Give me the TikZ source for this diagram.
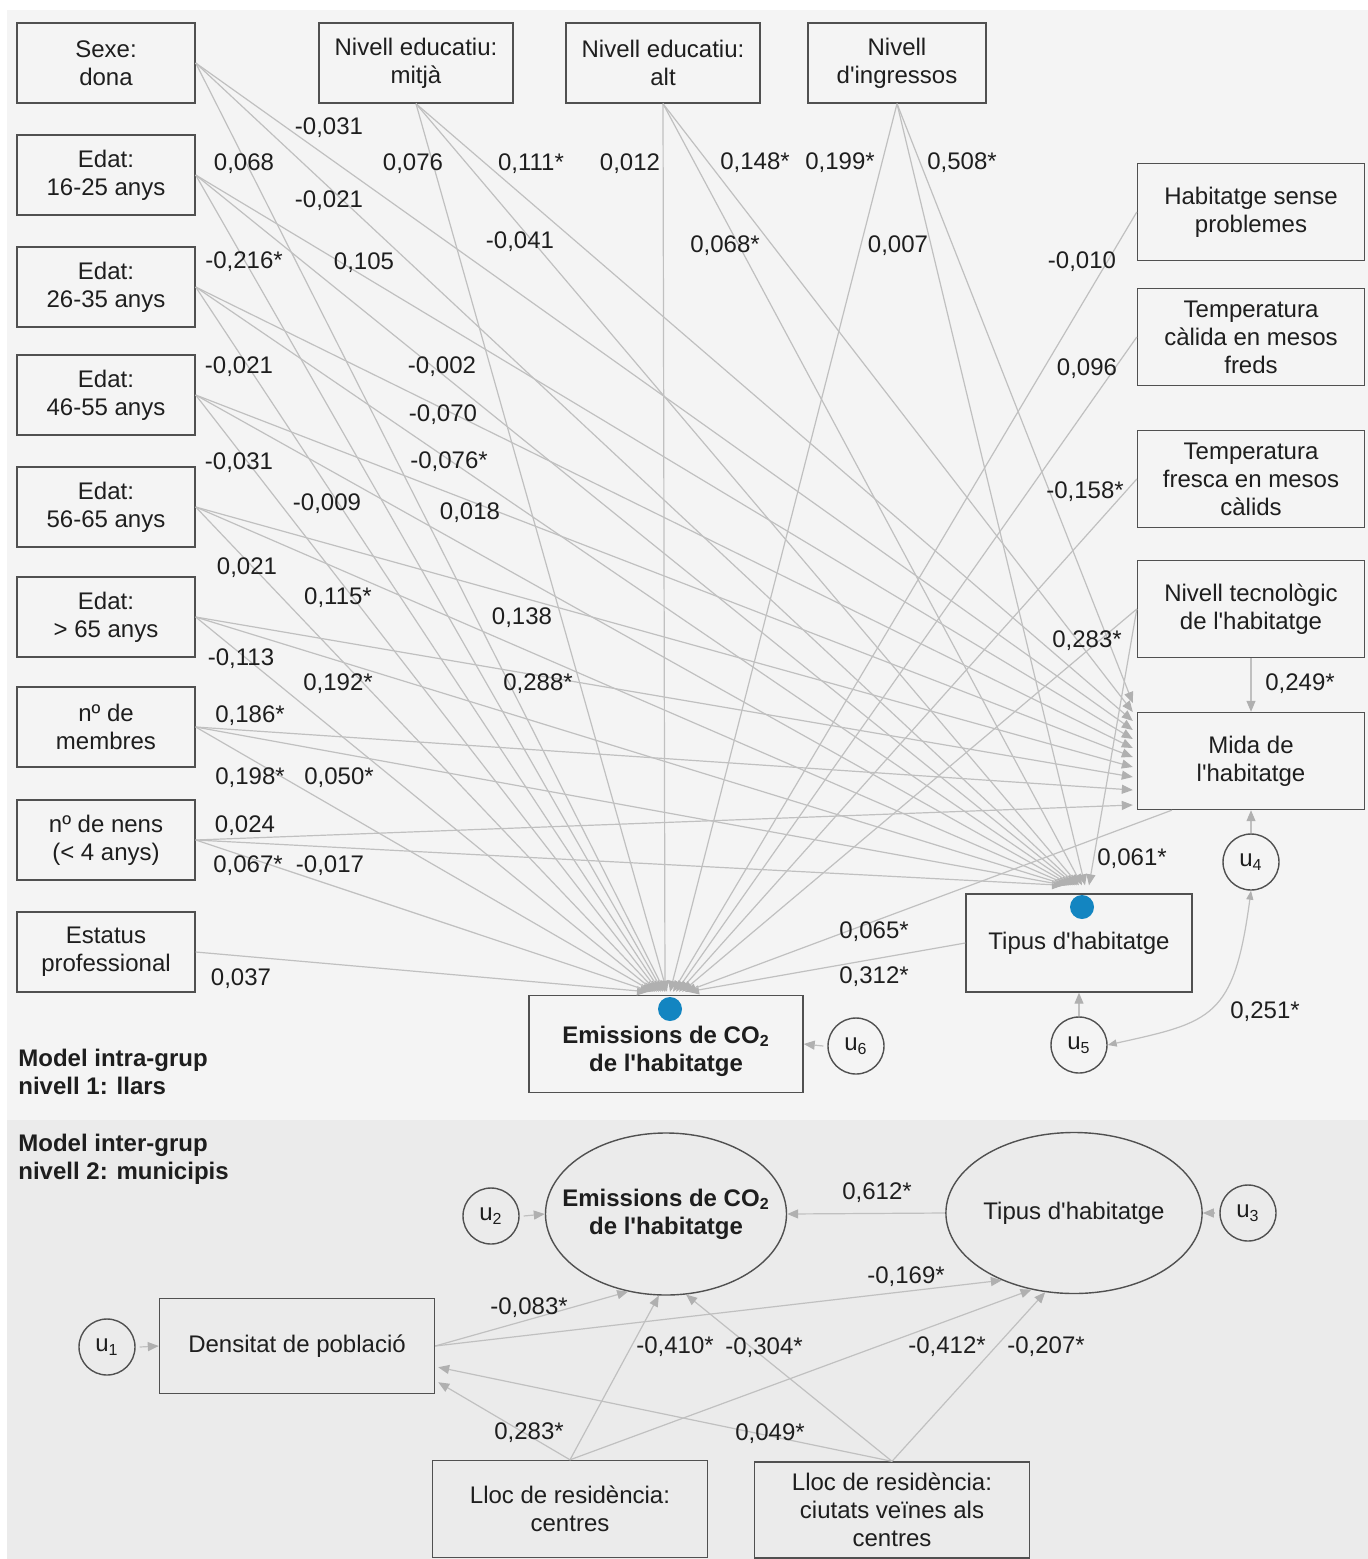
\documentclass[tikz,border=0pt]{standalone}
\usepackage{fontspec}
\setmainfont{Liberation Sans}[Ligatures=TeXOff]
\usetikzlibrary{arrows.meta,shapes}

\definecolor{txt}{HTML}{1E1E1E}
\definecolor{frame}{HTML}{505050}
\definecolor{wire}{HTML}{C0C0C0}
\definecolor{tip}{HTML}{B0B0B0}
\definecolor{panelA}{HTML}{F4F4F4}
\definecolor{panelB}{HTML}{EBEBEB}
\definecolor{dotblue}{HTML}{1385C1}

\newcommand{\fs}{\fontsize{12}{14}\selectfont}

\tikzstyle{bx} = [rectangle, draw=frame, line width=0.7pt, text=txt, align=center, inner sep=0pt]
\tikzstyle{lv} = [bx, minimum width=89pt, minimum height=40pt]
\tikzstyle{rv} = [bx, minimum width=113.5pt, minimum height=48.5pt]
\tikzstyle{err} = [circle, draw=frame, line width=0.7pt, text=txt, minimum size=28pt, inner sep=0pt]
\tikzstyle{ell} = [ellipse, draw=frame, line width=0.7pt, text=txt, align=center, inner sep=0pt]
\tikzstyle{ln} = [draw=wire, line width=0.6pt, -{Triangle[length=5.5pt,width=4.5pt,color=tip]}]
\tikzstyle{ln2} = [draw=wire, line width=0.6pt, {Triangle[length=4.5pt,width=3.5pt,color=tip]}-{Triangle[length=4.5pt,width=3.5pt,color=tip]}]
\tikzstyle{cf} = [text=txt, inner sep=0pt]
\tikzstyle{ttl} = [text=txt, font=\fs\bfseries, align=left, anchor=west, inner sep=0pt]

\begin{document}
\begin{tikzpicture}[x=0.5pt, y=-0.5pt, font=\fs]
\useasboundingbox (0,0) rectangle (1368,1559);
\fill[panelA] (7,10) rectangle (1368,1120);
\fill[panelB] (7,1120) rectangle (1368,1559);

% nivell 1: llars
\node[lv] (sexe)  at (106,63)  {Sexe:\\dona};
\node[lv] (g16)   at (106,175) {Edat:\\16-25 anys};
\node[lv] (g26)   at (106,287) {Edat:\\26-35 anys};
\node[lv] (g46)   at (106,395) {Edat:\\46-55 anys};
\node[lv] (g56)   at (106,507) {Edat:\\56-65 anys};
\node[lv] (g65)   at (106,617) {Edat:\\> 65 anys};
\node[lv] (memb)  at (106,727) {nº de\\membres};
\node[lv] (nens)  at (106,840) {nº de nens\\(< 4 anys)};
\node[lv] (estat) at (106,952) {Estatus\\professional};

\node[lv, minimum width=97pt] (mitja) at (416,63) {Nivell educatiu:\\mitjà};
\node[lv, minimum width=97pt] (alt)   at (663,63) {Nivell educatiu:\\alt};
\node[lv] (ingr) at (897,63) {Nivell\\d'ingressos};

\node[rv] (habit)  at (1251,212) {Habitatge sense\\problemes};
\node[rv] (calida) at (1251,337) {Temperatura\\càlida en mesos\\freds};
\node[rv] (fresca) at (1251,479) {Temperatura\\fresca en mesos\\càlids};
\node[rv] (nivtec) at (1251,609) {Nivell tecnològic\\de l'habitatge};
\node[rv] (mida)   at (1251,761) {Mida de\\l'habitatge};

\node[bx, minimum width=113pt, minimum height=49pt] (tipus) at (1079,943) {Tipus d'habitatge};
\node[bx, minimum width=137pt, minimum height=48.5pt, font=\fs\bfseries,
      text height=30pt, text depth=3pt] (emis) at (666,1044) {Emissions de CO\textsubscript{2}\\de l'habitatge};

\node[err] (u6) at (856,1046)  {u\textsubscript{6}};
\node[err] (u5) at (1079,1045) {u\textsubscript{5}};
\node[err] (u4) at (1251,862)  {u\textsubscript{4}};

\node[ttl] (lvl1) at (18,1072) {Model intra-grup\\nivell 1: llars};

% paths into the emissions box
\foreach \s/\d in {estat.east/-18, nens.east/-15, memb.east/-13, g65.east/-11, g56.east/-9,
                   g46.east/-7, g26.east/-5, g16.east/-3, sexe.east/-1, mitja.south/1,
                   alt.south/-1, ingr.south/4, habit.west/7, calida.west/10, fresca.west/13,
                   nivtec.west/16, tipus.west/22}
  \draw[ln] (\s) -- ([shift={(\d,-3)}]emis.north);
\draw[ln] ([shift={(35,0)}]mida.south west) -- ([shift={(19,-3)}]emis.north);

% paths into tipus
\foreach \s/\d in {nens.east/-16, memb.east/-14, g65.east/-12, g56.east/-10, g46.east/-8,
                   g26.east/-6, g16.east/-4, sexe.east/-2, mitja.south/0, alt.south/3,
                   ingr.south/6, nivtec.west/10}
  \draw[ln] (\s) -- ([shift={(\d,-8)}]tipus.north);

% paths into mida
\foreach \s/\d in {ingr.south/-58, alt.south/-49, mitja.south/-40, sexe.east/-31, g16.east/-22,
                   g26.east/-13, g46.east/-4, g56.east/6, g65.east/16, memb.east/29, nens.east/44}
  \draw[ln] (\s) -- ([shift={(-4,\d)}]mida.west);
\draw[ln] (nivtec.south) -- (mida.north);

\draw[ln] ([xshift=-2pt]u6.west) -- (emis.east);
\draw[ln] (u5.north) -- (tipus.south);
\draw[ln] (u4.north) -- (mida.south);
\draw[ln2] (u5.east) .. controls (1212,1022) and (1234,1018) .. (u4.south);

\fill[dotblue] (670,1009) circle (6pt);
\fill[dotblue] (1082,907) circle (6pt);

\foreach \x/\y/\t [count=\i] in {
  329/128/{-0,031}, 244/164/{0,068}, 413/164/{0,076}, 531/164/{0,111*}, 630/164/{0,012},
  755/163/{0,148*}, 840/163/{0,199*}, 962/163/{0,508*}, 329/201/{-0,021}, 520/242/{-0,041},
  725/246/{0,068*}, 898/246/{0,007}, 244/262/{-0,216*}, 364/263/{0,105}, 1082/262/{-0,010},
  239/367/{-0,021}, 442/367/{-0,002}, 1087/369/{0,096}, 443/415/{-0,070}, 449/462/{-0,076*},
  239/463/{-0,031}, 1085/492/{-0,158*}, 327/504/{-0,009}, 470/513/{0,018}, 247/568/{0,021},
  338/598/{0,115*}, 522/618/{0,138}, 1087/641/{0,283*}, 241/659/{-0,113}, 338/684/{0,192*},
  538/684/{0,288*}, 1300/684/{0,249*}, 250/716/{0,186*}, 250/778/{0,198*}, 339/778/{0,050*},
  245/826/{0,024}, 1132/859/{0,061*}, 248/866/{0,067*}, 330/866/{-0,017}, 874/932/{0,065*},
  241/979/{0,037}, 874/977/{0,312*}, 1265/1012/{0,251*}}
  \node[cf] (w\i) at (\x,\y) {\t};

% nivell 2: municipis
\node[ttl] (lvl2) at (18,1159) {Model inter-grup\\nivell 2: municipis};

\node[ell, minimum width=120.5pt, minimum height=81pt] (emis2) at (666,1214) {};
\node[cf, align=center, font=\fs\bfseries] (emis2t) at (666,1214) {Emissions de CO\textsubscript{2}\\de l'habitatge};
\node[ell, minimum width=121.5pt, minimum height=80.5pt] (tip2) at (1074,1213) {Tipus d'habitatge};
\node[err] (u2) at (491,1216) {u\textsubscript{2}};
\node[err] (u3) at (1248,1213) {u\textsubscript{3}};
\node[err] (u1) at (107,1347) {u\textsubscript{1}};
\node[bx, minimum width=137.5pt, minimum height=47.5pt] (dens) at (297,1346) {Densitat de població};
\node[bx, minimum width=137.5pt, minimum height=48.5pt] (cent) at (570,1509) {Lloc de residència:\\centres};
\node[bx, minimum width=137.5pt, minimum height=48pt] (vei) at (892,1510) {Lloc de residència:\\ciutats veïnes als\\centres};

\draw[ln] (tip2.west) -- (emis2.east);
\draw[ln] ([xshift=2pt]u2.east) -- (emis2.west);
\draw[ln] ([xshift=-2pt]u3.west) -- (tip2.east);
\draw[ln] ([xshift=2pt]u1.east) -- (dens.west);
\draw[ln] (dens.east) -- (emis2.244);
\draw[ln] (dens.east) -- (tip2.223);
\draw[ln] (cent.north) -- ([shift={(3,-12)}]dens.south east);
\draw[ln] (cent.north) -- (emis2.265);
\draw[ln] (cent.north) -- (tip2.241);
\draw[ln] (vei.north) -- ([shift={(3,-27)}]dens.south east);
\draw[ln] (vei.north) -- (emis2.284);
\draw[ln] (vei.north) -- (tip2.250);

\foreach \x/\y/\t [count=\i] in {
  877/1193/{0,612*}, 906/1277/{-0,169*}, 529/1308/{-0,083*}, 675/1347/{-0,410*},
  764/1348/{-0,304*}, 947/1347/{-0,412*}, 1046/1347/{-0,207*}, 529/1433/{0,283*}, 770/1434/{0,049*}}
  \node[cf] (v\i) at (\x,\y) {\t};
\end{tikzpicture}
\end{document}
